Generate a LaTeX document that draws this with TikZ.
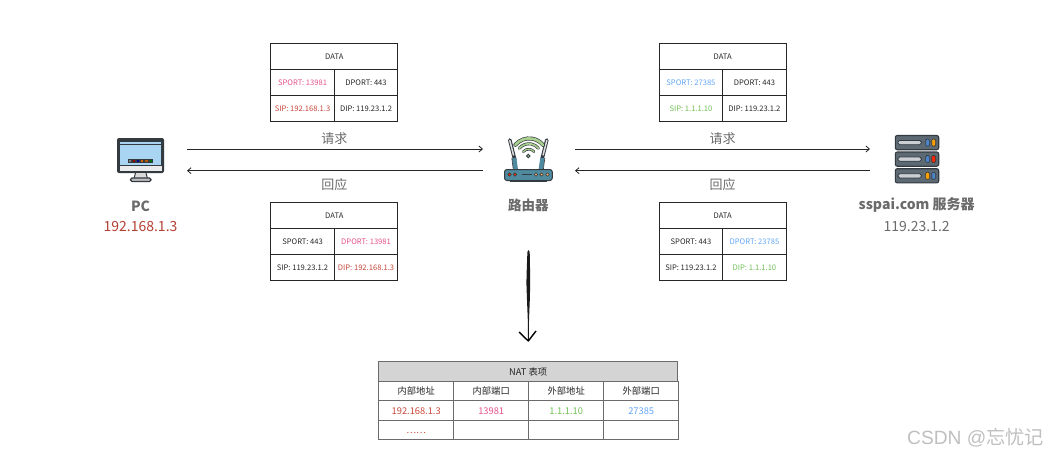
\documentclass[tikz,border=0pt]{standalone}
\usepackage{fontspec}
\setmainfont{Noto Sans CJK SC}
\newfontfamily\wmlatin{Liberation Sans}
\usetikzlibrary{arrows.meta,positioning}
\definecolor{pinkc}{HTML}{E4508A}
\definecolor{redc}{HTML}{C8463A}
\definecolor{bluec}{HTML}{62A5F7}
\definecolor{greenc}{HTML}{6FBF55}
\definecolor{grayc}{HTML}{6B6B6B}
\definecolor{inkc}{HTML}{262626}
\definecolor{iconc}{HTML}{333A40}
\definecolor{screenc}{HTML}{A9D5F2}
\definecolor{unitc}{HTML}{5E6A73}
\definecolor{slotc}{HTML}{C9CFD3}
\definecolor{routerc}{HTML}{4F8A9E}
\definecolor{wific}{HTML}{A9CF8E}
\tikzset{
  cell/.style={draw=inkc,line width=0.95pt,inner sep=0pt,outer sep=0pt,minimum width=63.5pt,minimum height=26pt,text height=6.5pt,text depth=0pt,font=\fontsize{7.6}{9}\selectfont,text=inkc},
  widecell/.style={cell,minimum width=127pt},
  natcell/.style={draw=grayc,line width=0.7pt,inner sep=0pt,outer sep=0pt,minimum width=75pt,minimum height=19.5pt,text height=7.5pt,text depth=0pt,font=\fontsize{9.3}{11}\selectfont,text=inkc},
  nathead/.style={natcell,minimum width=299pt,fill=black!17},
  flow/.style={draw=inkc,line width=0.8pt,-{Straight Barb[length=3.5pt,width=6pt]}},
  verb/.style={font=\fontsize{13}{15}\selectfont,text=grayc},
  hosttitle/.style={font=\bfseries\fontsize{14}{17}\selectfont,text=grayc},
  hostaddr/.style={font=\fontsize{14}{16}\selectfont},
}
% name, left x, top y, SPORT, DPORT, SIP, DIP
\newcommand\pktbox[7]{%
  \node[widecell,anchor=north west] (#1d) at (#2,#3) {DATA};
  \node[cell,anchor=north west] (#1a) at (#2,#3+26) {#4};
  \node[cell,anchor=north west] (#1b) at (#2+63.5,#3+26) {#5};
  \node[cell,anchor=north west] (#1c) at (#2,#3+52) {#6};
  \node[cell,anchor=north west] (#1e) at (#2+63.5,#3+52) {#7};
}
\begin{document}
\begin{tikzpicture}[x=1pt,y=-1pt]
\useasboundingbox (0,0) rectangle (1050,455);

% packets
\pktbox{tl}{270.8}{43.2}{\textcolor{pinkc}{SPORT: 13981}}{DPORT: 443}{\textcolor{redc}{SIP: 192.168.1.3}}{DIP: 119.23.1.2}
\pktbox{bl}{270.8}{202.6}{SPORT: 443}{\textcolor{pinkc}{DPORT: 13981}}{SIP: 119.23.1.2}{\textcolor{redc}{DIP: 192.168.1.3}}
\pktbox{tr}{659.2}{43.2}{\textcolor{bluec}{SPORT: 27385}}{DPORT: 443}{\textcolor{greenc}{SIP: 1.1.1.10}}{DIP: 119.23.1.2}
\pktbox{br}{659.2}{202.6}{SPORT: 443}{\textcolor{bluec}{DPORT: 23785}}{SIP: 119.23.1.2}{\textcolor{greenc}{DIP: 1.1.1.10}}

% flow arrows
\coordinate (pcreqa) at (187,149);
\coordinate (rreqa) at (483,149);
\coordinate (pcresp) at (187,170.7);
\coordinate (rresp) at (483,170.7);
\coordinate (rreqb) at (575,149);
\coordinate (sreq) at (870,149);
\coordinate (rrespb) at (575,170.7);
\coordinate (sresp) at (870,170.7);
\draw[flow] (pcreqa) -- (rreqa);
\draw[flow] (rresp) -- (pcresp);
\draw[flow] (rreqb) -- (sreq);
\draw[flow] (sresp) -- (rrespb);
\node[verb] (v1) at (334.3,139) {请求};
\node[verb] (v2) at (334.3,185) {回应};
\node[verb] (v3) at (722.5,139) {请求};
\node[verb] (v4) at (722.5,185) {回应};

% PC icon
\fill[iconc,rounded corners=2pt] (117,138) rectangle (164,173);
\fill[white!92!black] (119.5,165) rectangle (162,171);
\fill[screenc] (120,141.5) rectangle (161,164.5);
\draw[iconc,line width=0.8pt] (120,144.2) -- (161,144.2);
\fill[iconc] (119.5,164.5) rectangle (162,165.5);
\fill[white!70!gray] (135.5,173) -- (146,173) -- (147.5,178.5) -- (134,178.5) -- cycle;
\draw[iconc,line width=1pt] (135.5,173) -- (134,178.5) (146,173) -- (147.5,178.5);
\fill[black!25,draw=iconc,line width=1.1pt,rounded corners=1.5pt] (130.5,178) rectangle (151,181.5);
\foreach \px/\pc in {128/gray,132.2/red!60!black,136.4/blue!60!black,140.6/orange!80!black,144.8/orange!70!black,149/green!45!black}{
  \fill[\pc,draw=iconc,line width=0.9pt] (\px,159.5) rectangle ++(3.2,3);
}
\node[hosttitle] (pct) at (140.5,206) {PC};
\node[hostaddr,text=redc!90!black] (pca) at (140.5,227) {192.168.1.3};

% router icon
\foreach \sg in {1,-1}{
  \draw[iconc,line width=3.6pt,line cap=round] (528.3+\sg*18.5,140) -- (528.3+\sg*13.5,160);
  \draw[black!12,line width=1.5pt,line cap=round] (528.3+\sg*18.5,140.5) -- (528.3+\sg*14.8,155);
  \draw[routerc,line width=4.5pt] (528.3+\sg*14.2,158) -- (528.3+\sg*12.5,170);
  \draw[iconc,line width=0.6pt] (528.3+\sg*16.5,158) -- (528.3+\sg*15,170);
}
\foreach \rr/\aw in {18/4,12.5/3,7/2.6}{
  \draw[iconc,line width=\aw pt,line cap=round] (528.3-\rr*0.72,156-\rr*0.62) arc[start angle=220,end angle=320,x radius=\rr pt,y radius=-\rr pt];
  \draw[wific,line width=\aw pt-1.3pt,line cap=round] (528.3-\rr*0.72,156-\rr*0.62) arc[start angle=220,end angle=320,x radius=\rr pt,y radius=-\rr pt];
}
\fill[wific,draw=iconc,line width=0.9pt] (528.3,156) circle (1.8pt);
\fill[routerc,draw=iconc,line width=1pt,rounded corners=2.5pt] (504.5,169.5) rectangle (552.3,180.5);
\draw[iconc,line width=1.8pt] (510,181.5) -- (547,181.5);
\draw[iconc,line width=0.8pt] (521.5,174.5) -- (531.5,174.5);
\foreach \px/\pc in {509.5/red!70!orange,515/red!70!orange,536/orange!60!white,541.6/orange!60!white,547.5/orange!60!white}{
  \fill[\pc,draw=iconc,line width=0.6pt] (\px,174.5) circle (1.7pt);
}
\node[hosttitle,font=\bfseries\fontsize{13.5}{16}\selectfont] (rt) at (528.3,205.5) {路由器};

% server icon
\foreach \uy/\ca/\cb in {135/bluec!80!black/orange!75!yellow,151.5/bluec!80!black/red!70!orange,168.2/orange!75!yellow/bluec!80!black}{
  \fill[unitc,draw=iconc,line width=1.1pt,rounded corners=2pt] (895.3,\uy+0.5) rectangle (938.7,\uy+14.7);
  \fill[slotc,draw=iconc,line width=0.8pt,rounded corners=1.8pt] (897.8,\uy+5.5) rectangle (921.5,\uy+9.7);
  \fill[\ca,draw=iconc,line width=0.6pt,rounded corners=1.3pt] (925.6,\uy+4) rectangle (929.6,\uy+11.2);
  \fill[\cb,draw=iconc,line width=0.6pt,rounded corners=1.3pt] (931.7,\uy+4) rectangle (935.7,\uy+11.2);
}
\node[hosttitle] (st) at (916.7,205) {sspai.com 服务器};
\node[hostaddr,text=grayc] (sa) at (916.7,227) {119.23.1.2};

% hand-drawn arrow
\fill[black!90] (528.4,250) -- (529.7,252) -- (530,268) -- (530.2,283) -- (529.8,300) -- (529,320) -- (528.8,341) -- (528,341) -- (527.8,320) -- (527,300) -- (526.4,283) -- (526.8,268) -- (527.4,252) -- cycle;
\draw[black,line width=1.4pt,line join=round] (519,332) -- (528.3,341) -- (536,331);

% NAT table
\node[nathead,anchor=north west] (nh) at (378.7,361.8) {NAT 表项};
\foreach \cx/\cn/\ca/\cb/\cc in {
  378.7/a/内部地址/\textcolor{redc}{192.168.1.3}/\textcolor{redc}{……},
  453.7/b/内部端口/\textcolor{pinkc}{13981}/{},
  528.7/c/外部地址/\textcolor{greenc}{1.1.1.10}/{},
  603.7/d/外部端口/\textcolor{bluec}{27385}/{}}{
  \node[natcell,anchor=north west] (n1\cn) at (\cx,381.3) {\ca};
  \node[natcell,anchor=north west] (n2\cn) at (\cx,400.8) {\cb};
  \node[natcell,anchor=north west] (n3\cn) at (\cx,420.3) {\cc};
}

% watermark
\node[anchor=east,font=\fontsize{19.2}{21}\selectfont,text=black!25] (wm) at (1047.5,437.5) {{\wmlatin CSDN @}忘忧记};
\end{tikzpicture}
\end{document}
